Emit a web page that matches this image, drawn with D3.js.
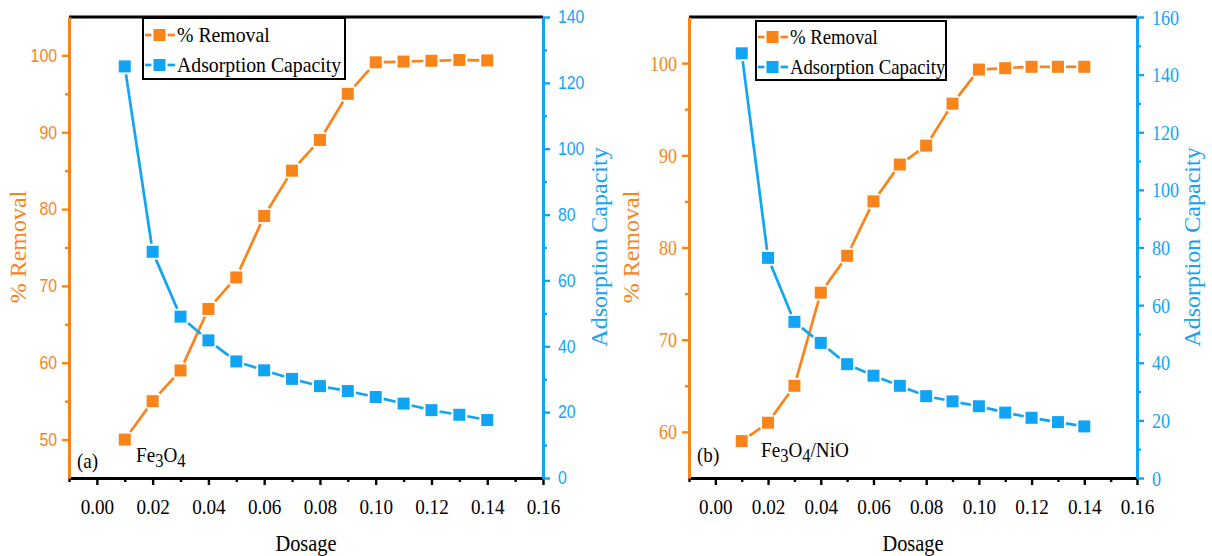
<!DOCTYPE html>
<html>
<head>
<meta charset="utf-8">
<script src="https://cdn.jsdelivr.net/npm/d3@7"></script>
<style>
  body { margin: 0; background: #fff; }
  svg { display: block; }
</style>
</head>
<body>
<svg id="chart" width="1212" height="556"></svg>
<script>
// ---- data ----
const dosage = [0.01, 0.02, 0.03, 0.04, 0.05, 0.06, 0.07, 0.08, 0.09, 0.10, 0.11, 0.12, 0.13, 0.14];

const removalFe3O4 = [50, 55, 59, 67, 71.1, 79.1, 85, 89, 95, 99.1, 99.2, 99.3, 99.4, 99.35];
const capacityFe3O4 = [125, 68.7, 49, 41.8, 35.4, 32.7, 30.1, 27.9, 26.4, 24.6, 22.6, 20.6, 19.2, 17.6];

const removalFe3O4NiO = [59, 61, 65, 75.1, 79.1, 85, 89, 91.05, 95.6, 99.3, 99.45, 99.6, 99.6, 99.6];
const capacityFe3O4NiO = [147.4, 76.4, 54.2, 46.9, 39.5, 35.5, 32, 28.4, 26.6, 24.9, 22.7, 20.9, 19.4, 17.9];

const dosageTicks = [0, 0.02, 0.04, 0.06, 0.08, 0.10, 0.12, 0.14, 0.16];
const dosageMinor = [-0.01, 0.01, 0.03, 0.05, 0.07, 0.09, 0.11, 0.13, 0.15];

const removalTicksA = [50, 60, 70, 80, 90, 100];
const removalMinorA = [55, 65, 75, 85, 95];
const capacityTicksA = [0, 20, 40, 60, 80, 100, 120, 140];
const capacityMinorA = [10, 30, 50, 70, 90, 110, 130];

const removalTicksB = [60, 70, 80, 90, 100];
const removalMinorB = [65, 75, 85, 95];
const capacityTicksB = [0, 20, 40, 60, 80, 100, 120, 140, 160];
const capacityMinorB = [10, 30, 50, 70, 90, 110, 130, 150];

const seriesNames = ["% Removal", "Adsorption Capacity"];

// ---- styling ----
const ORANGE = "#F8841A";
const BLUE = "#12A4F4";
const SERIF = "'Liberation Serif','Times New Roman',serif";
const SANS = "'Liberation Sans',Arial,sans-serif";
const MARK = 12;       // square marker side
const GAP = 2;         // gap between line segment and marker

const svg = d3.select("#chart");

// line segments that stop just short of each square marker
function gappedSegments(points, half, gap) {
  const segs = [];
  for (let i = 0; i < points.length - 1; i++) {
    const [x1, y1] = points[i], [x2, y2] = points[i + 1];
    const dx = x2 - x1, dy = y2 - y1, len = Math.hypot(dx, dy);
    const ux = dx / len, uy = dy / len;
    const r = half / Math.max(Math.abs(ux), Math.abs(uy)) + gap;
    if (len > 2 * r) segs.push([x1 + ux * r, y1 + uy * r, x2 - ux * r, y2 - uy * r]);
  }
  return segs;
}

function drawSeries(g, pts, color) {
  const segs = gappedSegments(pts, MARK / 2, GAP);
  g.append("g").selectAll("line").data(segs).join("line")
    .attr("x1", d => d[0]).attr("y1", d => d[1])
    .attr("x2", d => d[2]).attr("y2", d => d[3])
    .attr("stroke", color).attr("stroke-width", 2.7);
  g.append("g").selectAll("rect").data(pts).join("rect")
    .attr("x", d => d[0] - MARK / 2).attr("y", d => d[1] - MARK / 2)
    .attr("width", MARK).attr("height", MARK)
    .attr("fill", color);
}

function styleAxis(g, color, font, size, sx) {
  g.select(".domain").attr("stroke", color).attr("stroke-width", 3);
  g.selectAll(".tick line").attr("stroke", color).attr("stroke-width", 2.4);
  g.selectAll(".tick text")
    .attr("fill", color)
    .attr("font-family", font)
    .attr("font-size", size)
    .attr("transform", `scale(${sx},1)`)
    .attr("x", function () {
      const x = this.getAttribute("x");
      return x === null ? null : (+x) / sx;
    });
}

function compressedText(parent, x, y, txt, opts) {
  const g = parent.append("g").attr("transform", `translate(${x},${y})`);
  const t = g.append("text")
    .attr("transform", `scale(${opts.sx || 1},1)`)
    .attr("font-family", opts.font || SERIF)
    .attr("font-size", opts.size)
    .attr("fill", opts.color || "#000")
    .attr("text-anchor", opts.anchor || "start")
    .attr("dominant-baseline", opts.baseline || "alphabetic");
  if (txt !== null) t.text(txt);
  return t;
}

function drawPanel(cfg) {
  const root = svg.append("g");
  const x = d3.scaleLinear().domain([-0.01, 0.16]).range([cfg.left, cfg.right]);
  const yL = d3.scaleLinear().domain(cfg.removalDomain).range([cfg.bottom, cfg.top]);
  const yR = d3.scaleLinear().domain(cfg.capacityDomain).range([cfg.bottom, cfg.top]);

  // top frame line
  root.append("line")
    .attr("x1", cfg.left).attr("x2", cfg.right)
    .attr("y1", cfg.top).attr("y2", cfg.top)
    .attr("stroke", "#000").attr("stroke-width", 3);

  // bottom axis
  const xa = root.append("g").attr("transform", `translate(0,${cfg.bottom})`)
    .call(d3.axisBottom(x).tickValues(dosageTicks).tickSize(7).tickSizeOuter(0)
      .tickPadding(13).tickFormat(d3.format(".2f")));
  styleAxis(xa, "#000", SERIF, 22, 0.87);
  const xm = root.append("g").attr("transform", `translate(0,${cfg.bottom})`)
    .call(d3.axisBottom(x).tickValues(dosageMinor).tickSize(4).tickSizeOuter(0).tickFormat(""));
  xm.select(".domain").remove();
  xm.selectAll(".tick line").attr("stroke", "#000").attr("stroke-width", 2.4);

  // left axis (% removal)
  const la = root.append("g").attr("transform", `translate(${cfg.left},0)`)
    .call(d3.axisLeft(yL).tickValues(cfg.removalTicks).tickSize(7).tickSizeOuter(0).tickPadding(5));
  styleAxis(la, ORANGE, cfg.yFont, cfg.yFontSize, cfg.ySx);
  const lm = root.append("g").attr("transform", `translate(${cfg.left},0)`)
    .call(d3.axisLeft(yL).tickValues(cfg.removalMinor).tickSize(4).tickSizeOuter(0).tickFormat(""));
  lm.select(".domain").remove();
  lm.selectAll(".tick line").attr("stroke", ORANGE).attr("stroke-width", 2.4);

  // right axis (adsorption capacity)
  const ra = root.append("g").attr("transform", `translate(${cfg.right},0)`)
    .call(d3.axisRight(yR).tickValues(cfg.capacityTicks).tickSize(7).tickSizeOuter(0).tickPadding(8));
  styleAxis(ra, BLUE, cfg.yFont, cfg.yFontSize, cfg.ySx);
  const rm = root.append("g").attr("transform", `translate(${cfg.right},0)`)
    .call(d3.axisRight(yR).tickValues(cfg.capacityMinor).tickSize(4).tickSizeOuter(0).tickFormat(""));
  rm.select(".domain").remove();
  rm.selectAll(".tick line").attr("stroke", BLUE).attr("stroke-width", 2.4);

  // axis titles
  root.append("text")
    .attr("transform", `translate(${cfg.leftTitleX},247) rotate(-90)`)
    .attr("text-anchor", "middle").attr("dominant-baseline", "central")
    .attr("font-family", SERIF).attr("font-size", 24).attr("fill", ORANGE)
    .text(seriesNames[0]);
  root.append("text")
    .attr("transform", `translate(${cfg.rightTitleX},247) rotate(-90)`)
    .attr("text-anchor", "middle").attr("dominant-baseline", "central")
    .attr("font-family", SERIF).attr("font-size", 24).attr("fill", BLUE)
    .text(seriesNames[1]);
  compressedText(root, (cfg.left + cfg.right) / 2, 551, "Dosage",
    { size: 24, sx: 0.85, anchor: "middle" });

  // data
  const plot = root.append("g");
  drawSeries(plot, dosage.map((d, i) => [x(d), yL(cfg.removal[i])]), ORANGE);
  drawSeries(plot, dosage.map((d, i) => [x(d), yR(cfg.capacity[i])]), BLUE);

  // panel letter and material label
  compressedText(root, cfg.letterX, cfg.letterY, cfg.letter, { size: 22, sx: 0.87 });
  const mt = compressedText(root, cfg.matX, cfg.matY, null, { size: 22, sx: 0.87 });
  cfg.material.forEach(part => {
    mt.append("tspan")
      .attr("dy", part.dy)
      .attr("font-size", part.sub ? 19 : 22)
      .text(part.t);
  });

  // legend
  const L = cfg.legend;
  const lg = root.append("g");
  lg.append("rect")
    .attr("x", L.x).attr("y", L.y).attr("width", L.w).attr("height", L.h)
    .attr("fill", "#fff").attr("stroke", "#000").attr("stroke-width", 2);
  [ORANGE, BLUE].forEach((c, i) => {
    const cy = L.rows[i];
    const half = MARK / 2;
    lg.append("line").attr("x1", L.sx0).attr("x2", L.mx - half - GAP)
      .attr("y1", cy).attr("y2", cy).attr("stroke", c).attr("stroke-width", 2.7);
    lg.append("line").attr("x1", L.mx + half + GAP).attr("x2", L.sx1)
      .attr("y1", cy).attr("y2", cy).attr("stroke", c).attr("stroke-width", 2.7);
    lg.append("rect").attr("x", L.mx - half).attr("y", cy - half)
      .attr("width", MARK).attr("height", MARK).attr("fill", c);
    compressedText(lg, L.tx, cy, seriesNames[i],
      { size: 21.5, sx: L.tsx, baseline: "central" });
  });
}

drawPanel({
  left: 69, right: 543, top: 17, bottom: 478,
  removalDomain: [45, 105], capacityDomain: [0, 140],
  removal: removalFe3O4, capacity: capacityFe3O4,
  removalTicks: removalTicksA, removalMinor: removalMinorA,
  capacityTicks: capacityTicksA, capacityMinor: capacityMinorA,
  yFont: SANS, yFontSize: 18, ySx: 0.88,
  leftTitleX: 18, rightTitleX: 599,
  letter: "(a)", letterX: 77, letterY: 468,
  matX: 136, matY: 462,
  material: [{ t: "Fe", dy: 0 }, { t: "3", dy: 5, sub: true }, { t: "O", dy: -5 }, { t: "4", dy: 5, sub: true }],
  legend: { x: 143, y: 18, w: 202, h: 61, rows: [35, 65], sx0: 145, sx1: 175, mx: 159.5, tx: 177, tsx: 0.92 }
});

drawPanel({
  left: 689, right: 1137, top: 17, bottom: 478,
  removalDomain: [55, 105], capacityDomain: [0, 160],
  removal: removalFe3O4NiO, capacity: capacityFe3O4NiO,
  removalTicks: removalTicksB, removalMinor: removalMinorB,
  capacityTicks: capacityTicksB, capacityMinor: capacityMinorB,
  yFont: SERIF, yFontSize: 22, ySx: 0.82,
  leftTitleX: 631, rightTitleX: 1192,
  letter: "(b)", letterX: 697, letterY: 462,
  matX: 761, matY: 457,
  material: [{ t: "Fe", dy: 0 }, { t: "3", dy: 5, sub: true }, { t: "O", dy: -5 }, { t: "4", dy: 5, sub: true }, { t: "/NiO", dy: -5 }],
  legend: { x: 756, y: 21, w: 190, h: 59, rows: [37, 67], sx0: 758, sx1: 788, mx: 772.5, tx: 790, tsx: 0.87 }
});
</script>
</body>
</html>
